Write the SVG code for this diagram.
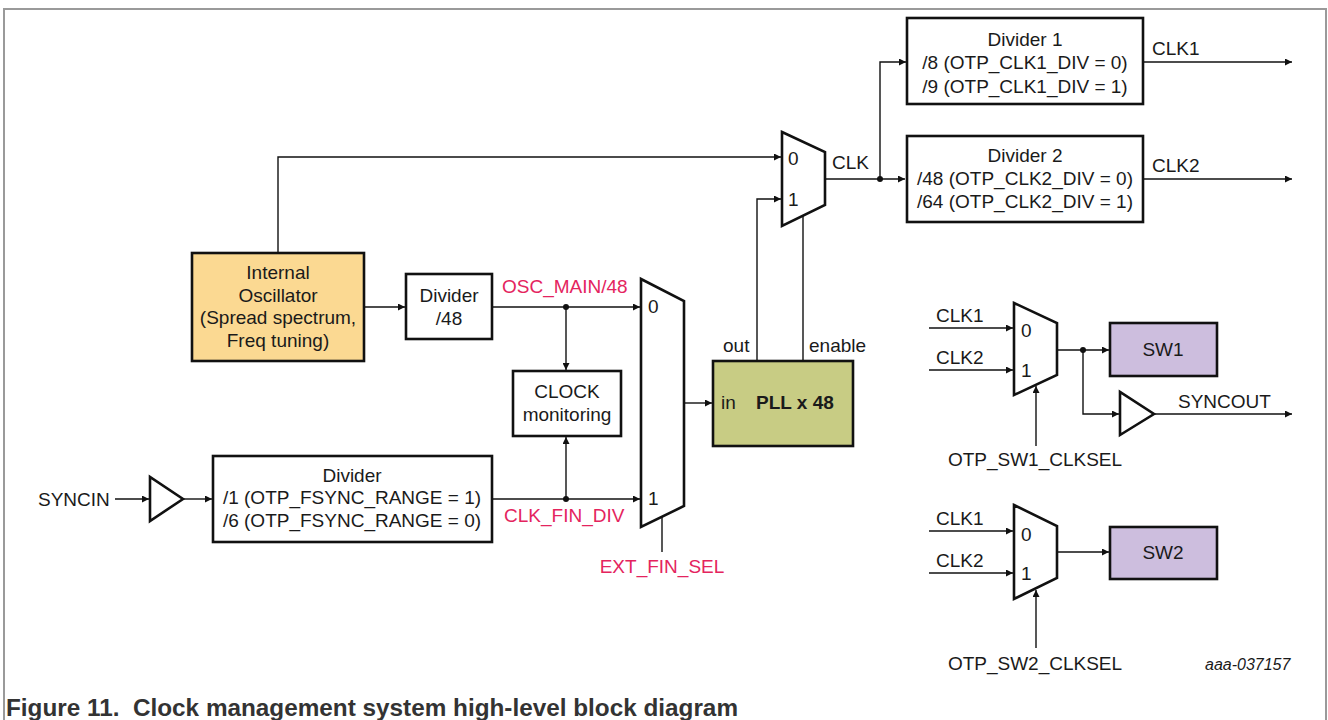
<svg xmlns="http://www.w3.org/2000/svg" width="1328" height="720" viewBox="0 0 1328 720">
<style>
text{font-family:"Liberation Sans",Arial,sans-serif;font-size:19px;fill:#1a1a1a}
.c{text-anchor:middle}
.r{fill:#E4245E}
.b{font-weight:bold}
.box{fill:#fff;stroke:#111;stroke-width:2.6}
.mux{fill:#fff;stroke:#111;stroke-width:2.6;stroke-linejoin:miter}
.w{fill:none;stroke:#111;stroke-width:1.4}
.a{marker-end:url(#ah)}
.dot{fill:#111}
</style>
<defs>
<marker id="ah" viewBox="0 0 10 10" refX="10" refY="5" markerWidth="9" markerHeight="7" markerUnits="userSpaceOnUse" orient="auto">
<path d="M0,0 L10,5 L0,10 z" fill="#111"/>
</marker>
</defs>
<rect x="0" y="0" width="1328" height="720" fill="#fff"/>
<path d="M4,730 V9 H1326 V730" fill="none" stroke="#9a9a9a" stroke-width="2"/>

<g id="connectors">
<path class="w a" d="M278,253 V157 H781"/>
<path class="w a" d="M364,307 H405"/>
<path class="w a" d="M492,307 H640"/>
<path class="w a" d="M566,307 V370"/>
<path class="w a" d="M492,499 H640"/>
<path class="w a" d="M566,499 V437"/>
<path class="w a" d="M115,499 H149"/>
<path class="w a" d="M183,499 H212"/>
<path class="w" d="M662,517 V552"/>
<path class="w a" d="M684,403 H712"/>
<path class="w a" d="M757,361 V199 H781"/>
<path class="w" d="M803,216 V361"/>
<path class="w a" d="M825,179 H905"/>
<path class="w a" d="M880,179 V62 H906"/>
<path class="w a" d="M1143,62 H1292"/>
<path class="w a" d="M1143,179 H1292"/>
<path class="w a" d="M929,328 H1013"/>
<path class="w a" d="M929,370 H1013"/>
<path class="w a" d="M1057,350 H1109"/>
<path class="w a" d="M1083,350 V414 H1119"/>
<path class="w a" d="M1154,414 H1292"/>
<path class="w a" d="M1036,446 V386"/>
<path class="w a" d="M929,531 H1013"/>
<path class="w a" d="M929,573 H1013"/>
<path class="w a" d="M1057,552 H1109"/>
<path class="w a" d="M1036,648 V590"/>
<circle class="dot" cx="566" cy="307" r="3"/>
<circle class="dot" cx="566" cy="499" r="3"/>
<circle class="dot" cx="880" cy="179" r="3"/>
<circle class="dot" cx="1083" cy="350" r="3"/>
</g>

<g id="osc">
<rect x="192" y="253" width="172" height="108" fill="#FBD992" stroke="#111" stroke-width="2.6"/>
<text class="c" x="278" y="279">Internal</text>
<text class="c" x="278" y="302">Oscillator</text>
<text class="c" x="278" y="324">(Spread spectrum,</text>
<text class="c" x="278" y="347">Freq tuning)</text>
</g>

<g id="div48">
<rect class="box" x="406" y="274" width="86" height="65"/>
<text class="c" x="449" y="302">Divider</text>
<text class="c" x="449" y="325">/48</text>
</g>

<g id="clkmon">
<rect class="box" x="513" y="371" width="108" height="65"/>
<text class="c" x="567" y="398">CLOCK</text>
<text class="c" x="567" y="421">monitoring</text>
</g>

<g id="divsync">
<rect class="box" x="213" y="456" width="279" height="86"/>
<text class="c" x="352" y="482">Divider</text>
<text class="c" x="352" y="504">/1 (OTP_FSYNC_RANGE = 1)</text>
<text class="c" x="352" y="527">/6 (OTP_FSYNC_RANGE = 0)</text>
</g>

<g id="syncin">
<text x="38" y="506">SYNCIN</text>
<polygon class="mux" points="150,477 150,521 183,499"/>
</g>

<g id="labels-red">
<text class="r" x="502" y="293">OSC_MAIN/48</text>
<text class="r" x="504" y="522">CLK_FIN_DIV</text>
<text class="r c" x="662" y="573">EXT_FIN_SEL</text>
</g>

<g id="mux-fin">
<polygon class="mux" points="641,279 684,301 684,506 641,527"/>
<text x="648" y="313">0</text>
<text x="648" y="505">1</text>
</g>

<g id="pll">
<rect x="713" y="361" width="140" height="85" fill="#C8CC84" stroke="#111" stroke-width="2.6"/>
<text x="721" y="409">in</text>
<text class="b" x="756" y="409">PLL x 48</text>
<text x="723" y="352">out</text>
<text x="809" y="352">enable</text>
</g>

<g id="mux-clk">
<polygon class="mux" points="782,132 825,152 825,205 782,226"/>
<text x="788" y="165">0</text>
<text x="788" y="206">1</text>
<text x="832" y="169">CLK</text>
</g>

<g id="div1">
<rect class="box" x="907" y="18" width="236" height="86"/>
<text class="c" x="1025" y="46">Divider 1</text>
<text class="c" x="1025" y="69">/8 (OTP_CLK1_DIV = 0)</text>
<text class="c" x="1025" y="93">/9 (OTP_CLK1_DIV = 1)</text>
<text x="1152" y="55">CLK1</text>
</g>

<g id="div2">
<rect class="box" x="907" y="136" width="236" height="86"/>
<text class="c" x="1025" y="162">Divider 2</text>
<text class="c" x="1025" y="185">/48 (OTP_CLK2_DIV = 0)</text>
<text class="c" x="1025" y="208">/64 (OTP_CLK2_DIV = 1)</text>
<text x="1152" y="172">CLK2</text>
</g>

<g id="mux-sw1">
<text x="936" y="322">CLK1</text>
<text x="936" y="364">CLK2</text>
<polygon class="mux" points="1014,303 1057,323 1057,375 1014,395"/>
<text x="1021" y="337">0</text>
<text x="1021" y="377">1</text>
<text class="c" x="1035" y="466">OTP_SW1_CLKSEL</text>
</g>

<g id="sw1">
<rect x="1110" y="323" width="107" height="53" fill="#CDBEDE" stroke="#111" stroke-width="2.6"/>
<text class="c" x="1163" y="356">SW1</text>
</g>

<g id="syncout">
<polygon class="mux" points="1120,392 1120,435 1154,414"/>
<text x="1178" y="408">SYNCOUT</text>
</g>

<g id="mux-sw2">
<text x="936" y="525">CLK1</text>
<text x="936" y="567">CLK2</text>
<polygon class="mux" points="1014,505 1057,526 1057,578 1014,599"/>
<text x="1021" y="541">0</text>
<text x="1021" y="580">1</text>
<text class="c" x="1035" y="670">OTP_SW2_CLKSEL</text>
</g>

<g id="sw2">
<rect x="1110" y="527" width="107" height="52" fill="#CDBEDE" stroke="#111" stroke-width="2.6"/>
<text class="c" x="1163" y="559">SW2</text>
</g>

<text x="1205" y="670" style="font-size:16px;font-style:italic">aaa-037157</text>
<text x="6" y="716" class="b" style="font-size:23px;fill:#333" textLength="732" lengthAdjust="spacingAndGlyphs" xml:space="preserve">Figure 11.  Clock management system high-level block diagram</text>
</svg>
